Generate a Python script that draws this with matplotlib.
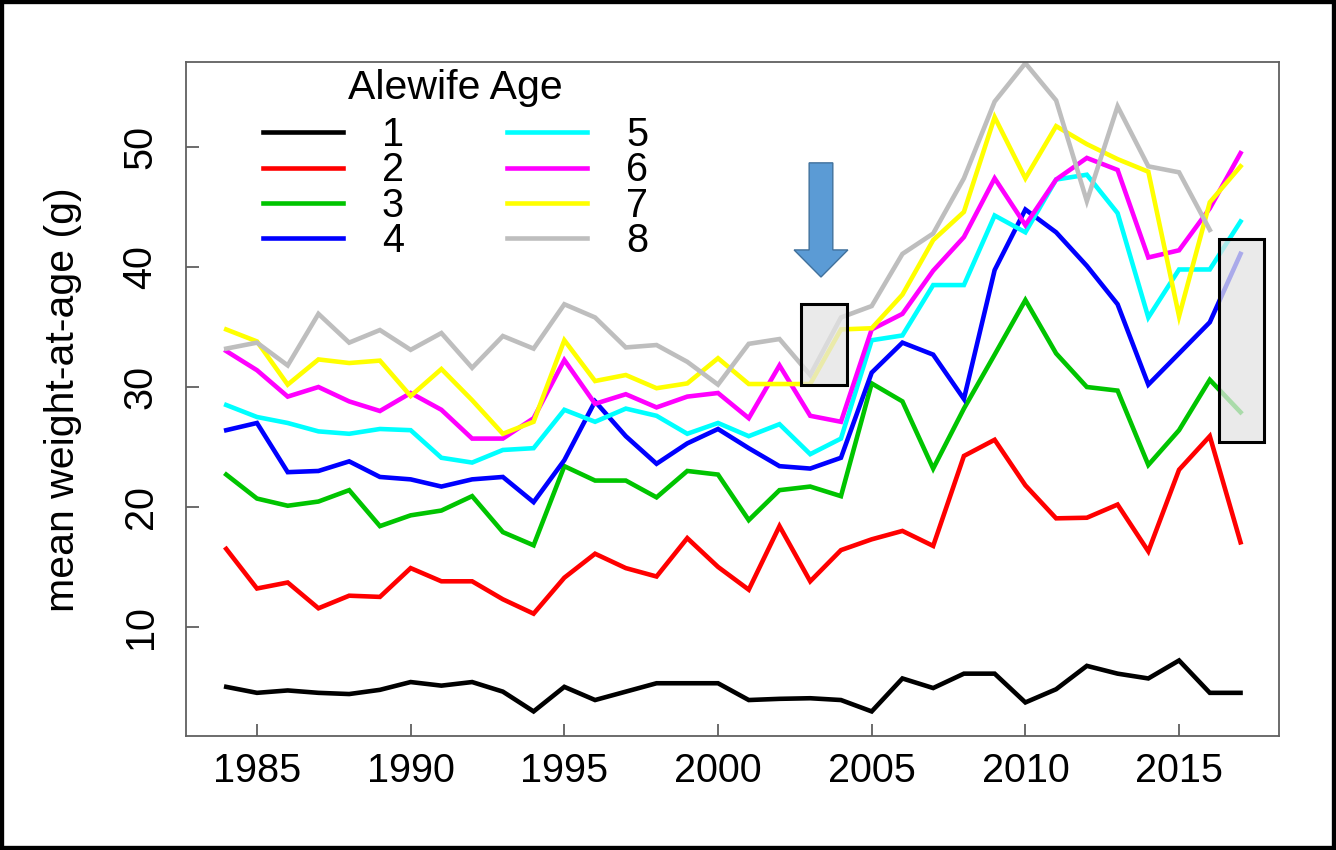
import matplotlib
matplotlib.use("Agg")
import matplotlib.pyplot as plt
from matplotlib.patches import Rectangle, FancyArrow
import numpy as np

plt.rcParams['font.family'] = ['Liberation Sans', 'DejaVu Sans']

years = np.arange(1984, 2018)

# mean weight-at-age (g) by age class, 1984-2017
age1 = [5.0, 4.5, 4.7, 4.5, 4.4, 4.75, 5.4, 5.1, 5.4, 4.6, 2.95, 5.0,
        3.9, 4.6, 5.3, 5.3, 5.3, 3.9, 4.0, 4.05, 3.9, 2.95,
        5.7, 4.9, 6.1, 6.1, 3.7, 4.8, 6.75, 6.1, 5.7, 7.2, 4.5, 4.5]
age2 = [16.5, 13.2, 13.7, 11.55, 12.6, 12.5, 14.9, 13.8, 13.8, 12.3, 11.1, 14.1,
        16.1, 14.9, 14.2, 17.4, 15.0, 13.1, 18.4, 13.8, 16.4, 17.3,
        18.0, 16.75, 24.25, 25.6, 21.8, 19.05, 19.1, 20.2, 16.3, 23.1, 25.9, 17.05]
age3 = [22.7, 20.7, 20.1, 20.45, 21.4, 18.4, 19.3, 19.7, 20.9, 17.9, 16.8, 23.4,
        22.2, 22.2, 20.8, 23.0, 22.7, 18.9, 21.4, 21.7, 20.9, 30.3,
        28.8, 23.2, 28.2, 32.7, 37.25, 32.8, 30.0, 29.7, 23.5, 26.4, 30.6, 27.9]
age4 = [26.4, 27.0, 22.9, 23.0, 23.8, 22.5, 22.3, 21.7, 22.3, 22.5, 20.4, 23.9,
        28.8, 25.9, 23.6, 25.3, 26.5, 24.9, 23.4, 23.2, 24.1, 31.2,
        33.7, 32.7, 29.0, 39.75, 44.8, 42.9, 40.1, 36.9, 30.2, 32.8, 35.4, 41.1]
age5 = [28.5, 27.5, 27.0, 26.3, 26.1, 26.5, 26.4, 24.1, 23.7, 24.75, 24.9, 28.1,
        27.1, 28.2, 27.6, 26.1, 27.0, 25.9, 26.9, 24.4, 25.7, 33.9,
        34.3, 38.5, 38.5, 44.3, 42.9, 47.3, 47.7, 44.5, 35.8, 39.8, 39.8, 43.8]
age6 = [33.0, 31.4, 29.2, 30.0, 28.8, 28.0, 29.5, 28.1, 25.7, 25.7, 27.4, 32.25,
        28.6, 29.4, 28.3, 29.2, 29.5, 27.4, 31.8, 27.6, 27.1, 34.8,
        36.1, 39.7, 42.5, 47.4, 43.5, 47.3, 49.1, 48.1, 40.8, 41.4, 44.9, 49.5]
age7 = [34.8, 33.8, 30.2, 32.3, 32.0, 32.2, 29.25, 31.5, 28.9, 26.1, 27.1, 33.9,
        30.5, 31.0, 29.9, 30.3, 32.4, 30.25, 30.25, 30.25, 34.8, 34.9,
        37.7, 42.25, 44.6, 52.5, 47.4, 51.75, 50.25, 49.0, 47.95, 35.9, 45.4, 48.4]
age8 = [33.2, 33.7, 31.8, 36.1, 33.7, 34.75, 33.1, 34.5, 31.6, 34.25, 33.2, 36.9,
        35.8, 33.3, 33.5, 32.1, 30.2, 33.6, 34.0, 31.0, 35.8, 36.75,
        41.1, 42.8, 47.4, 53.8, 57.0, 53.9, 45.5, 53.4, 48.4, 47.9, 43.1, np.nan]

series = [age1, age2, age3, age4, age5, age6, age7, age8]
labels = ['1', '2', '3', '4', '5', '6', '7', '8']
colors = ['black', '#ff0000', '#00c400', '#0000ff', '#00ffff', '#ff00ff', '#ffff00', '#bebebe']

# shaded boxes (year range, weight range)
boxes = [((2002.7, 2004.21), (30.2, 36.9)),
         ((2016.29, 2017.76), (25.4, 42.3))]

fig = plt.figure(figsize=(13.36, 8.5), dpi=100)
ax = fig.add_axes([0.1392, 0.1341, 0.8181, 0.7924])

for vals, lab, col in zip(series, labels, colors):
    ax.plot(years, vals, color=col, lw=3.3, label=lab, solid_joinstyle='miter')

for (x0, x1), (y0, y1) in boxes:
    ax.add_patch(Rectangle((x0, y0), x1 - x0, y1 - y0, facecolor='#e4e4e4',
                           alpha=0.75, edgecolor='none', zorder=5))
    ax.add_patch(Rectangle((x0, y0), x1 - x0, y1 - y0, facecolor='none',
                           edgecolor='black', lw=2.2, zorder=6))

ax.add_patch(FancyArrow(2003.35, 48.69, 0, -9.52, width=0.77, head_width=1.75,
                        head_length=2.26, length_includes_head=True,
                        facecolor='#5b9bd5', edgecolor='#41719c', lw=1, zorder=7))

ax.set_xlim(1982.69, 2018.25)
ax.set_ylim(0.9, 57.06)
ax.set_xticks([1985, 1990, 1995, 2000, 2005, 2010, 2015])
ax.set_yticks([10, 20, 30, 40, 50])

for sp in ax.spines.values():
    sp.set_color('#606060')
    sp.set_linewidth(1.3)

ax.tick_params(axis='both', direction='in', length=9, width=1.3, color='#606060',
               labelsize=28.5)
ax.tick_params(axis='x', pad=11.5)
ax.tick_params(axis='y', pad=19, labelrotation=90)
for t in ax.get_yticklabels():
    t.set_verticalalignment('center')

ax.set_ylabel('mean weight-at-age (g)', fontsize=29.5)
ax.yaxis.set_label_coords(-0.095, 0.5)

leg = ax.legend(ncol=2, title='Alewife Age', title_fontsize=29.5, fontsize=28.5,
                frameon=False, loc='upper left', bbox_to_anchor=(0.0702, 0.991),
                borderpad=0, borderaxespad=0, handlelength=2.03, handletextpad=0.98,
                columnspacing=2.6, labelspacing=-0.07)
leg._legend_box.sep = 7

# black frame around the whole picture
fig.add_artist(Rectangle((0, 0), 1, 1, transform=fig.transFigure, facecolor='none',
                         edgecolor='black', lw=6, clip_on=False))

fig.savefig('out.png', dpi=100)
